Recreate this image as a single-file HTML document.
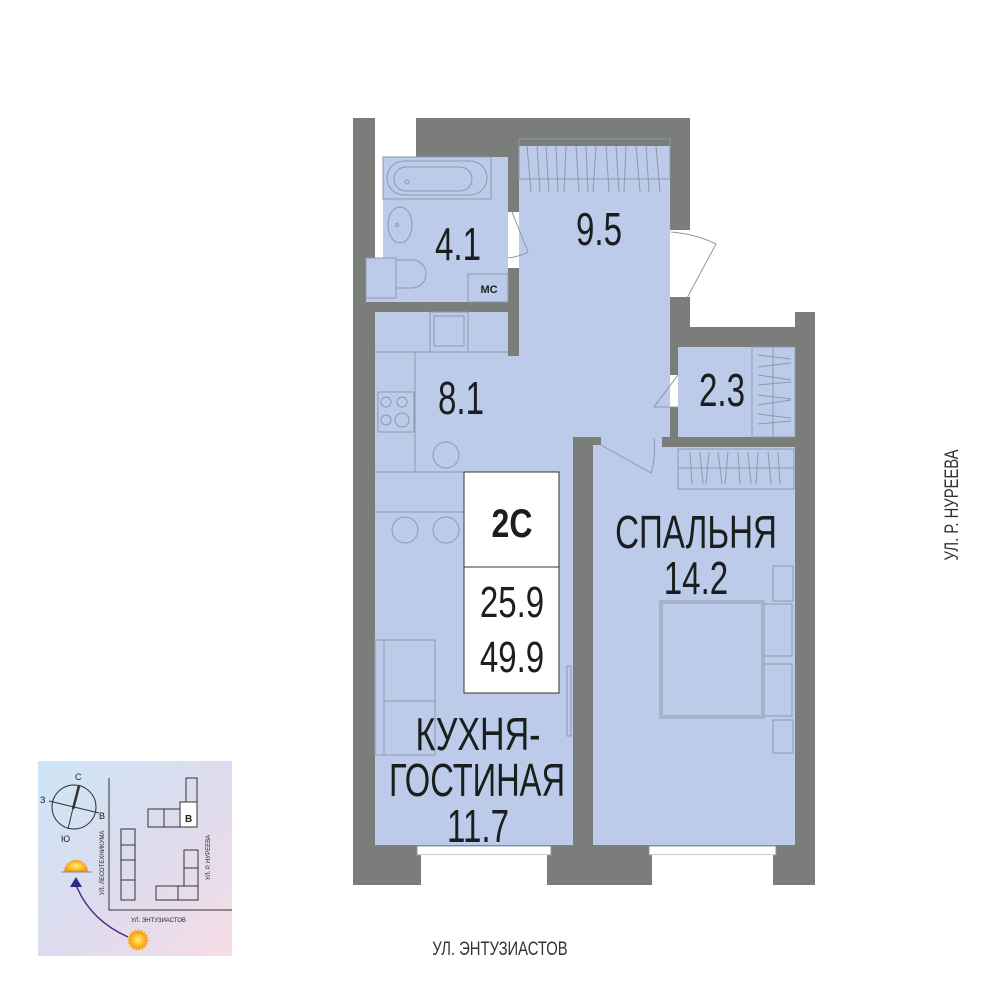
<!DOCTYPE html>
<html><head><meta charset="utf-8"><style>
html,body{margin:0;padding:0;background:#fff;width:1000px;height:1000px;overflow:hidden}
svg{display:block}
.t{font-family:"Liberation Sans",sans-serif;fill:#1a1e1c}
.l{fill:none;stroke:#8d98ac;stroke-width:1}
</style></head><body>
<svg width="1000" height="1000" viewBox="0 0 1000 1000" xmlns="http://www.w3.org/2000/svg">
<defs>
<linearGradient id="g" x1="0" y1="0" x2="1" y2="1">
<stop offset="0" stop-color="#cde6f6"/><stop offset="0.5" stop-color="#dcdcee"/><stop offset="1" stop-color="#f6dde6"/>
</linearGradient>
<radialGradient id="sun"><stop offset="0" stop-color="#fff27a"/><stop offset="0.6" stop-color="#fbc02a"/><stop offset="1" stop-color="#f39a1a"/></radialGradient>
</defs>
<g fill="#bccbe9">
<rect x="383" y="157" width="125" height="145"/>
<rect x="519" y="139" width="151" height="298"/>
<rect x="375" y="312" width="198" height="533"/>
<rect x="519" y="356" width="151" height="100"/>
<rect x="678" y="347" width="117" height="90"/>
<rect x="593" y="447" width="202" height="398"/>
</g>
<g fill="#7b7d7b">
<rect x="353" y="118" width="22" height="767"/>
<rect x="416" y="118" width="274" height="28"/>
<rect x="416" y="118" width="103" height="39"/>
<rect x="670" y="118" width="20" height="112"/>
<rect x="670" y="297" width="20" height="50"/>
<rect x="670" y="327" width="145" height="20"/>
<rect x="795" y="312" width="20" height="573"/>
<rect x="353" y="845" width="462" height="40"/>
<rect x="508" y="146" width="11" height="66"/>
<rect x="508" y="268" width="11" height="88"/>
<rect x="366" y="302" width="153" height="10"/>
<rect x="573" y="437" width="20" height="448"/>
<rect x="583" y="437" width="18" height="8"/>
<rect x="662" y="437" width="153" height="10"/>
<rect x="670" y="347" width="8" height="28"/>
<rect x="670" y="407" width="8" height="40"/>
</g>
<rect x="366" y="258" width="20" height="44" fill="#bccbe9"/>
<g fill="#fff" stroke="#8d98ac">
<rect x="417" y="846" width="134" height="9"/><rect x="421" y="855" width="126" height="30" stroke="none"/>
<rect x="649" y="846" width="127" height="9"/><rect x="652" y="855" width="121" height="30" stroke="none"/>
</g>
<g class="l">
<rect x="383" y="157" width="108" height="42"/><rect x="387" y="161" width="100" height="34" rx="17"/>
<rect x="394" y="167" width="78" height="24" rx="12"/>
<circle cx="407" cy="182" r="2"/>
<ellipse cx="400" cy="225" rx="12" ry="18"/><circle cx="397" cy="225" r="1.5"/>
<rect x="366" y="258" width="30" height="40"/><path d="M396 260 h16 a14 14 0 0 1 0 28 h-16z"/>
<rect x="468" y="274" width="40" height="28"/>
<path d="M512 212 l16 40 q-10 5 -20 6"/>
<rect x="519" y="139" width="151" height="40"/>
<path d="M527 146 l4 46 M537 146 l3 46 M546 146 l3 46 M556 146 l2 46 M566 146 l-2 46 M576 146 l3 46 M586 146 l2 46 M596 146 l-3 46 M606 146 l3 46 M616 146 l3 46 M626 146 l-2 46 M636 146 l4 46 M646 146 l3 46 M656 146 l4 46"/>
<path d="M671 232 q25 2 45 12 l-29 54"/>
<rect x="430" y="312" width="38" height="40"/><rect x="434" y="316" width="30" height="30"/>
<path d="M375 352 H508 M415 352 V472 M375 472 H464 M375 512 H464"/>
<rect x="378" y="392" width="36" height="40"/>
<circle cx="386" cy="402" r="5"/><circle cx="402" cy="402" r="5"/><circle cx="386" cy="420" r="5"/><circle cx="402" cy="420" r="7"/>
<circle cx="446" cy="455" r="13"/>
<circle cx="405" cy="530" r="13"/><circle cx="446" cy="530" r="13"/>
<rect x="375" y="640" width="60" height="115"/><path d="M384 640 V755 M384 701 H435"/>
<rect x="567" y="666" width="4" height="70"/>
<path d="M601 445 l50 28 q5 -15 3 -35"/>
<path d="M678 407 l-24 0 l24 -32"/>
<rect x="752" y="347" width="43" height="90"/><path d="M773 347 V437"/>
<path d="M758 355 l33 4 M758 367 l33 -4 M758 375 l33 5 M758 385 l33 -3 M758 395 l33 4 M758 405 l33 -5 M758 414 l33 4 M758 424 l33 -3"/>
<rect x="678" y="449" width="116" height="40"/><path d="M678 468 H794"/>
<path d="M690 452 l2 32 M700 452 l3 32 M709 452 l-3 32 M718 452 l4 32 M728 452 l-3 32 M738 452 l2 32 M748 452 l3 32 M758 452 l-2 32 M768 452 l3 32 M778 452 l2 32"/>
<rect x="660" y="601" width="104" height="117"/><rect x="662" y="603" width="100" height="113"/>
<rect x="764" y="604" width="28" height="52"/><rect x="764" y="664" width="28" height="52"/>
<rect x="773" y="566" width="20" height="35"/><rect x="773" y="720" width="20" height="33"/>
</g>
<rect x="464" y="472" width="95" height="221" fill="#fff" stroke="#333" stroke-width="1"/>
<path d="M464 567 H559" stroke="#333"/>
<g class="t" text-anchor="middle">
<text x="512" y="537" font-size="40" font-weight="bold" transform="translate(512 0) scale(0.8 1) translate(-512 0)">2С</text>
<text x="512" y="617" font-size="44" transform="translate(512 0) scale(0.75 1) translate(-512 0)">25.9</text>
<text x="512" y="672" font-size="44" transform="translate(512 0) scale(0.75 1) translate(-512 0)">49.9</text>
<text x="599" y="245" font-size="46" transform="translate(599 0) scale(0.72 1) translate(-599 0)">9.5</text>
<text x="458" y="260" font-size="46" transform="translate(458 0) scale(0.72 1) translate(-458 0)">4.1</text>
<text x="461" y="414" font-size="46" transform="translate(461 0) scale(0.72 1) translate(-461 0)">8.1</text>
<text x="722" y="406" font-size="46" transform="translate(722 0) scale(0.72 1) translate(-722 0)">2.3</text>
<text x="696" y="548" font-size="46" transform="translate(696 0) scale(0.72 1) translate(-696 0)">СПАЛЬНЯ</text>
<text x="696" y="594" font-size="46" transform="translate(696 0) scale(0.72 1) translate(-696 0)">14.2</text>
<text x="478" y="750" font-size="46" transform="translate(478 0) scale(0.74 1) translate(-478 0)">КУХНЯ-</text>
<text x="477" y="796" font-size="46" transform="translate(477 0) scale(0.71 1) translate(-477 0)">ГОСТИНАЯ</text>
<text x="478" y="842" font-size="46" transform="translate(478 0) scale(0.72 1) translate(-478 0)">11.7</text>
<text x="489" y="293" font-size="11" font-weight="bold">МС</text>
<text x="500" y="955" font-size="19" transform="translate(500 0) scale(0.78 1) translate(-500 0)" fill="#333">УЛ. ЭНТУЗИАСТОВ</text>
<text x="0" y="0" font-size="19" fill="#333" transform="translate(958 505) rotate(-90) scale(0.78 1)">УЛ. Р. НУРЕЕВА</text>
</g>
<rect x="38" y="761" width="194" height="195" fill="url(#g)"/>
<g stroke="#333" fill="none" stroke-width="1">
<circle cx="74" cy="807" r="22"/>
<path d="M49 801 L99 813 M68 829 L78 787"/>
<path d="M73 809 L79 786" stroke-width="2.5"/>
<path d="M109 778 V910 H232"/>
<rect x="186" y="778" width="11" height="24"/><rect x="148" y="809" width="16" height="18"/><rect x="164" y="809" width="16" height="18"/>
<rect x="180" y="802" width="17" height="25" fill="#fff"/>
<rect x="121" y="829" width="14" height="16"/><rect x="121" y="845" width="14" height="15"/><rect x="121" y="860" width="14" height="20"/><rect x="121" y="880" width="14" height="20"/>
<rect x="184" y="850" width="14" height="18"/><rect x="184" y="868" width="14" height="18"/>
<rect x="156" y="886" width="22" height="14"/><rect x="178" y="886" width="20" height="14"/>
<path d="M128 937 Q90 920 76 885" stroke="#5a2a8a" stroke-width="1.5"/>
</g>
<path d="M70 887 L76 877 L82 887Z" fill="#2a2a8a"/>
<path d="M64 872 a12 12 0 0 1 24 0z" fill="url(#sun)"/>
<path d="M61 872 H92" stroke="#888"/>
<circle cx="138" cy="940" r="9" fill="url(#sun)" stroke="#f7a51e" stroke-dasharray="1.5 1.5" stroke-width="3"/>
<g font-family="Liberation Sans,sans-serif" font-size="9" fill="#222">
<text x="75" y="780">С</text><text x="40" y="803">З</text><text x="99" y="819">В</text><text x="61" y="842">Ю</text>
<text x="185" y="822" font-size="10" font-weight="bold">В</text>
<text x="131" y="922" font-size="6">УЛ. ЭНТУЗИАСТОВ</text>
<text font-size="6" transform="translate(104 895) rotate(-90)">УЛ. ЛЕСОТЕХНИКУМА</text>
<text font-size="6" transform="translate(210 880) rotate(-90)">УЛ. Р. НУРЕЕВА</text>
</g>
</svg>
</body></html>
